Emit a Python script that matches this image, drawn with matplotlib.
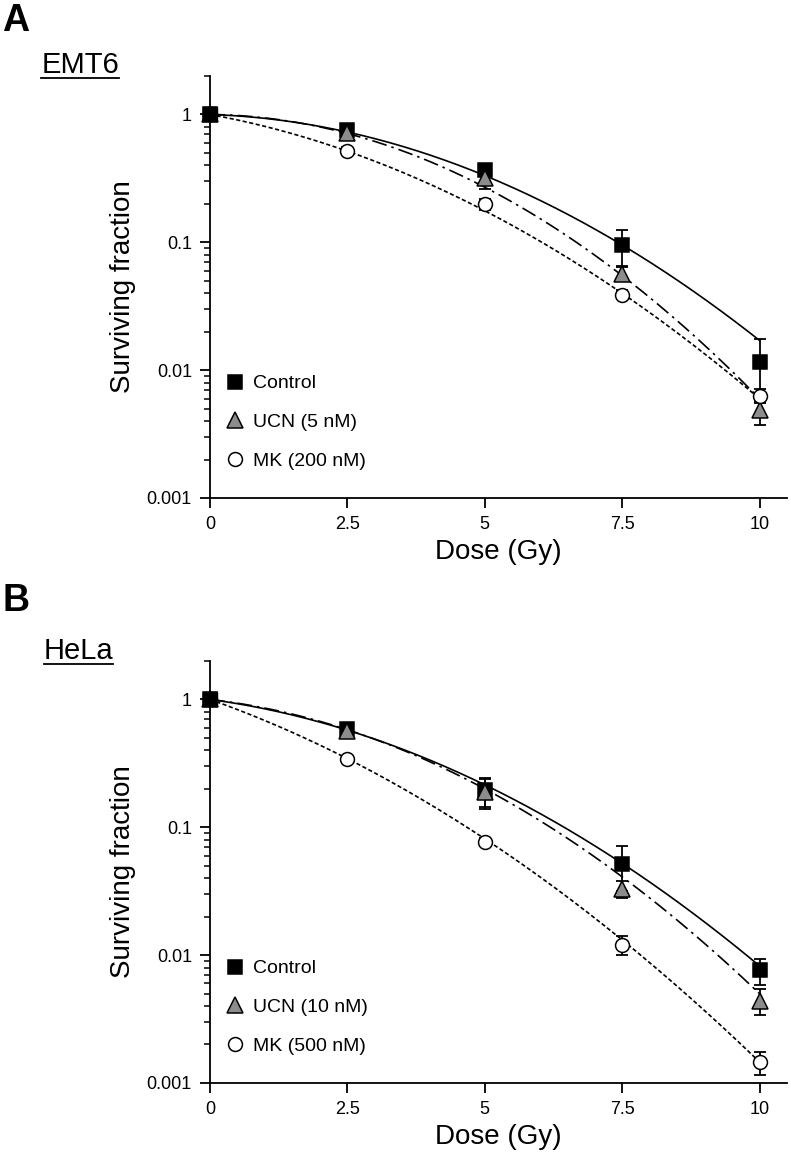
import numpy as np
import matplotlib
matplotlib.use('Agg')
import matplotlib.pyplot as plt
from matplotlib.ticker import LogLocator, FixedLocator, NullFormatter, FuncFormatter

plt.rcParams['font.family'] = ['Liberation Sans', 'DejaVu Sans']

dose = [0, 2.5, 5, 7.5, 10]

# EMT6 (panel A)
emt6_ctrl = [1.0, 0.75, 0.37, 0.095, 0.0116]
emt6_ctrl_err = [0.0, 0.04, 0.03, 0.03, 0.006]
emt6_ucn = [1.0, 0.72, 0.32, 0.057, 0.0049]
emt6_ucn_err = [0.0, 0.05, 0.06, 0.007, 0.0012]
emt6_mk = [1.0, 0.52, 0.20, 0.039, 0.0063]
emt6_mk_err = [0.0, 0.04, 0.02, 0.003, 0.0008]
# linear-quadratic fit parameters (alpha, beta)
emt6_fits = [(0.033, 0.0374), (0.012, 0.050), (0.182, 0.033)]

# HeLa (panel B)
hela_ctrl = [1.0, 0.59, 0.195, 0.052, 0.0076]
hela_ctrl_err = [0.0, 0.04, 0.05, 0.02, 0.0018]
hela_ucn = [1.0, 0.57, 0.19, 0.033, 0.0044]
hela_ucn_err = [0.0, 0.05, 0.05, 0.005, 0.001]
hela_mk = [1.0, 0.344, 0.077, 0.012, 0.00145]
hela_mk_err = [0.0, 0.02, 0.006, 0.002, 0.0003]
hela_fits = [(0.135, 0.0345), (0.114, 0.0416), (0.351, 0.0302)]

x_ticks = [0, 2.5, 5, 7.5, 10]
x_tick_labels = ['0', '2.5', '5', '7.5', '10']
y_ticks = [0.001, 0.01, 0.1, 1]
y_tick_labels = ['0.001', '0.01', '0.1', '1']


def draw_panel(ax, ctrl, ctrl_err, ucn, ucn_err, mk, mk_err, fits, labels):
    dd = np.linspace(0, 10, 200)
    styles = ['-', (0, (9, 3, 1.5, 3)), (0, (2.5, 1.5))]
    for (a, b), ls in zip(fits, styles):
        ax.plot(dd, np.exp(-(a * dd + b * dd ** 2)), color='black', lw=1.2, ls=ls, zorder=2)

    series = [(ctrl, ctrl_err, 's', 'black', 9.5, 4),
              (ucn, ucn_err, '^', '#8c8c8c', 11, 5),
              (mk, mk_err, 'o', 'white', 10, 6)]
    for (vals, err, m, fc, ms, z), lab in zip(series, labels):
        ax.errorbar(dose, vals, yerr=err, fmt='none', ecolor='black', elinewidth=1.3,
                    capsize=4.5, capthick=1.3, zorder=3)
        ax.plot(dose, vals, ls='none', marker=m, ms=ms, mfc=fc, mec='black', mew=1.1,
                label=lab, zorder=z, clip_on=False)
    # at 0 Gy the control square sits on top of the others
    ax.plot(dose[:1], ctrl[:1], ls='none', marker='s', ms=9.5, mfc='black', mec='black',
            zorder=7, clip_on=False)

    ax.set_yscale('log')
    ax.set_xlim(0, 10.5)
    ax.set_ylim(0.001, 2)
    ax.yaxis.set_major_locator(FixedLocator(y_ticks))
    ax.yaxis.set_major_formatter(FuncFormatter(lambda v, p: y_tick_labels[y_ticks.index(min(y_ticks, key=lambda t: abs(t - v)))]))
    ax.yaxis.set_minor_locator(LogLocator(base=10, subs=np.arange(2, 10)))
    ax.yaxis.set_minor_formatter(NullFormatter())
    ax.set_xticks(x_ticks)
    ax.set_xticklabels(x_tick_labels)

    for s in ['top', 'right']:
        ax.spines[s].set_visible(False)
    for s in ['left', 'bottom']:
        ax.spines[s].set_linewidth(1.3)
    ax.tick_params(which='major', direction='out', length=7, width=1.3, labelsize=13, pad=6)
    ax.tick_params(which='minor', direction='out', length=4.5, width=1.1)

    ax.set_xlabel('Dose (Gy)', fontsize=20, labelpad=4)
    ax.set_ylabel('Surviving fraction', fontsize=20, labelpad=8)

    handles, labs = ax.get_legend_handles_labels()
    leg = ax.legend(handles, labs, loc='lower left', bbox_to_anchor=(0.0, 0.035), frameon=False,
                    fontsize=14, handletextpad=0.3, labelspacing=1.08, borderaxespad=0.3,
                    handlelength=1.2)
    return leg


fig = plt.figure(figsize=(7.91, 11.6), dpi=100)
ax1 = fig.add_axes([0.2655, 0.5707, 0.7295, 0.3638])
ax2 = fig.add_axes([0.2655, 0.0664, 0.7295, 0.3638])

draw_panel(ax1, emt6_ctrl, emt6_ctrl_err, emt6_ucn, emt6_ucn_err, emt6_mk, emt6_mk_err,
           emt6_fits, ['Control', 'UCN (5 nM)', 'MK (200 nM)'])
draw_panel(ax2, hela_ctrl, hela_ctrl_err, hela_ucn, hela_ucn_err, hela_mk, hela_mk_err,
           hela_fits, ['Control', 'UCN (10 nM)', 'MK (500 nM)'])

fig.text(0.003, 0.997, 'A', fontsize=27, fontweight='bold', va='top', ha='left')
fig.text(0.003, 0.497, 'B', fontsize=27, fontweight='bold', va='top', ha='left')
t1 = fig.text(0.052, 0.937, 'EMT6', fontsize=21, va='baseline', ha='left')
t2 = fig.text(0.055, 0.432, 'HeLa', fontsize=21, va='baseline', ha='left')
# underlines under the cell line names
fig.canvas.draw()
r = fig.canvas.get_renderer()
for t in (t1, t2):
    bb = t.get_window_extent(r).transformed(fig.transFigure.inverted())
    fig.add_artist(plt.Line2D([bb.x0, bb.x1], [bb.y0 + 0.001, bb.y0 + 0.001],
                              transform=fig.transFigure, color='black', lw=1.3))

fig.savefig('out.png', dpi=100)
